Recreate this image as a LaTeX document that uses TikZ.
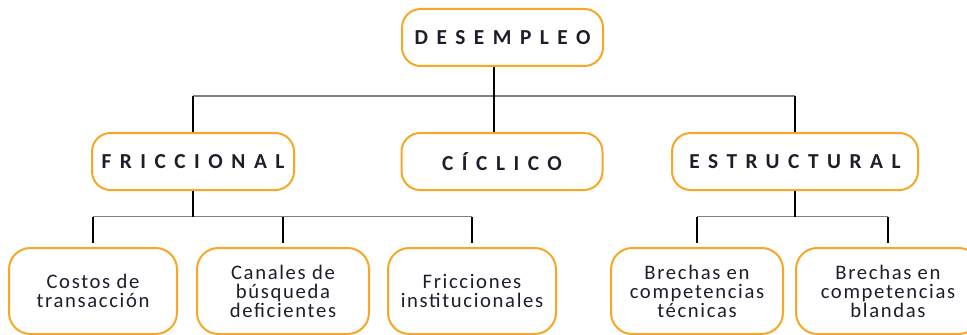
\documentclass[tikz,border=0pt]{standalone}
\usepackage{fontspec}
\setmainfont{Carlito}
\newfontfamily\titlefont[LetterSpace=40]{Carlito}
\newfontfamily\leaffont[LetterSpace=8]{Carlito}
\definecolor{boxorange}{RGB}{247,166,38}
\definecolor{inkblack}{RGB}{28,30,42}

\begin{document}
\begin{tikzpicture}[x=0.75pt, y=-0.75pt,
	titlebox/.style = {draw = boxorange, line width = 1.5pt, rounded corners = 14pt, fill = white,
		minimum height = 42.75pt, inner sep = 0pt, text = inkblack,
		font = \titlefont\bfseries\fontsize{16}{18}\selectfont},
	leafbox/.style = {draw = boxorange, line width = 1.5pt, rounded corners = 16pt, fill = white,
		minimum height = 64.5pt, inner sep = 0pt, align = center, text = inkblack,
		font = \leaffont\fontsize{15.5}{14.2}\selectfont},
	bus/.style = {draw = gray, line width = 1.1pt},
	stem/.style = {draw = black, line width = 0.9pt}]
	\clip (0,0) rectangle (967,335);
	% upper level
	\node[titlebox, minimum width = 150.75pt] (desempleo) at (502.5,37.5) {DESEMPLEO};
	\node[titlebox, minimum width = 151.5pt] (friccional) at (193,161.5) {FRICCIONAL};
	\node[titlebox, minimum width = 150.75pt] (ciclico) at (502,161.5) {CÍCLICO};
	\node[titlebox, minimum width = 184.5pt] (estructural) at (795,161.5) {ESTRUCTURAL};
	% lower level
	\node[leafbox, minimum width = 126pt] (costos) at (93,291) {Costos de\\transacción};
	\node[leafbox, minimum width = 129pt] (canales) at (283,291) {Canales de\\búsqueda\\deficientes};
	\node[leafbox, minimum width = 126pt] (fricciones) at (472,291) {Fricciones\\institucionales};
	\node[leafbox, minimum width = 129pt] (tecnicas) at (697,291) {Brechas en\\competencias\\técnicas};
	\node[leafbox, minimum width = 138pt] (blandas) at (888,291) {Brechas en\\competencias\\blandas};
	% connectors
	\coordinate (topbus) at (494,96);
	\coordinate (fricbus) at (193,216.5);
	\coordinate (estrbus) at (795,216.5);
	\draw[bus] (topbus -| friccional.north) -- (topbus -| estructural.north);
	\draw[stem] (desempleo.south -| topbus) -- (ciclico.north -| topbus);
	\foreach \kind in {friccional, estructural}
	\draw[stem] (topbus -| \kind.north) -- (\kind.north);
	\draw[bus] (fricbus -| costos.north) -- (fricbus -| fricciones.north);
	\draw[stem] (friccional.south) -- (fricbus);
	\foreach \leaf in {costos, canales, fricciones}
	\draw[stem, shorten > = 3pt] (fricbus -| \leaf.north) -- (\leaf.north);
	\draw[bus] (estrbus -| tecnicas.north) -- (estrbus -| blandas.north);
	\draw[stem] (estructural.south) -- (estrbus);
	\foreach \leaf in {tecnicas, blandas}
	\draw[stem, shorten > = 3pt] (estrbus -| \leaf.north) -- (\leaf.north);
\end{tikzpicture}
\end{document}
